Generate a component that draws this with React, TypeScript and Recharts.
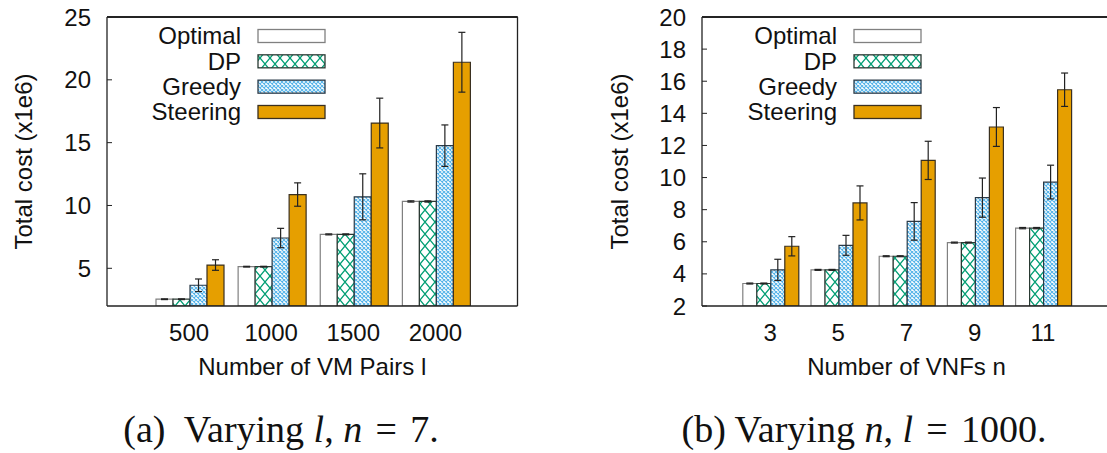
import React from 'react';
import { BarChart, Bar, XAxis, YAxis, ErrorBar, Legend, ReferenceLine, CartesianGrid } from 'recharts';

// (a) varying l, n = 7
const lCats = ['500', '1000', '1500', '2000'];
const lOptimal = [2.54, 5.13, 7.7, 10.32];
const lDP = [2.54, 5.13, 7.7, 10.32];
const lGreedy = [3.65, 7.41, 10.69, 14.76];
const lSteering = [5.26, 10.87, 16.56, 21.4];
const lOptimalErr = [0.03, 0.03, 0.04, 0.05];
const lDPErr = [0.03, 0.03, 0.04, 0.05];
const lGreedyErr = [0.5, 0.77, 1.83, 1.65];
const lSteeringErr = [0.42, 0.93, 1.98, 2.38];
const lTicks = [5, 10, 15, 20, 25];

// (b) varying n, l = 1000
const rCats = ['3', '5', '7', '9', '11'];
const rOptimal = [3.4, 4.25, 5.1, 5.95, 6.85];
const rDP = [3.4, 4.25, 5.1, 5.95, 6.85];
const rGreedy = [4.25, 5.78, 7.27, 8.75, 9.72];
const rSteering = [5.72, 8.42, 11.07, 13.15, 15.47];
const rOptimalErr = [0.03, 0.03, 0.03, 0.03, 0.04];
const rDPErr = [0.03, 0.03, 0.03, 0.03, 0.04];
const rGreedyErr = [0.66, 0.62, 1.17, 1.22, 1.05];
const rSteeringErr = [0.6, 1.06, 1.19, 1.21, 1.04];
const rTicks = [2, 4, 6, 8, 10, 12, 14, 16, 18, 20];

const FONT = '"Liberation Sans", Arial, Helvetica, sans-serif';
const SERIF = '"Liberation Serif", "Times New Roman", serif';
const INK = '#111';
const AXIS = '#222';

const rows = (cats: string[], o: number[], d: number[], g: number[], s: number[],
  oe: number[], de: number[], ge: number[], se: number[]) =>
  cats.map((x, i) => ({
    x, optimal: o[i], dp: d[i], greedy: g[i], steering: s[i],
    optErr: oe[i], dpErr: de[i], greedyErr: ge[i], steerErr: se[i],
  }));

const leftData = rows(lCats, lOptimal, lDP, lGreedy, lSteering, lOptimalErr, lDPErr, lGreedyErr, lSteeringErr);
const rightData = rows(rCats, rOptimal, rDP, rGreedy, rSteering, rOptimalErr, rDPErr, rGreedyErr, rSteeringErr);

const SERIES = [
  { key: 'optimal', err: 'optErr', name: 'Optimal', stroke: '#808080' },
  { key: 'dp', err: 'dpErr', name: 'DP', stroke: '#2a3a33' },
  { key: 'greedy', err: 'greedyErr', name: 'Greedy', stroke: '#2a3a48' },
  { key: 'steering', err: 'steerErr', name: 'Steering', stroke: '#3a3020' },
];

const fillFor = (p: string, key: string) => {
  if (key === 'optimal') return '#ffffff';
  if (key === 'dp') return `url(#${p}-dp)`;
  if (key === 'greedy') return `url(#${p}-greedy)`;
  return '#e69f00';
};

function Patterns({ p }: { p: string }) {
  return (
    <defs>
      <pattern id={`${p}-dp`} patternUnits="userSpaceOnUse" width={10} height={12}>
        <rect width={10} height={12} fill="#fff" />
        <path d="M0 0 L10 12 M10 0 L0 12" stroke="#009e73" strokeWidth={1.3} />
      </pattern>
      <pattern id={`${p}-greedy`} patternUnits="userSpaceOnUse" width={4} height={4}>
        <rect width={4} height={4} fill="#fff" />
        <path d="M0 0 L4 4 M4 0 L0 4" stroke="#56b4e9" strokeWidth={1.1} />
      </pattern>
    </defs>
  );
}

// legend keeps the plotting order (Optimal, DP, Greedy, Steering)
function LegendBox({ p }: { p: string }) {
  return (
    <svg width={200} height={104} style={{ display: 'block' }}>
      <Patterns p={p + 'lg'} />
      {SERIES.map((s, i) => {
        const cy = 14 + i * 25.33;
        return (
          <g key={s.key}>
            <text x={111} y={cy} dy="0.35em" textAnchor="end" fontFamily={FONT} fontSize={24} fill={INK}>
              {s.name}
            </text>
            <rect x={128} y={cy - 6.5} width={67} height={13} fill={fillFor(p + 'lg', s.key)} stroke={s.stroke} strokeWidth={1.3} />
          </g>
        );
      })}
    </svg>
  );
}

type PanelProps = {
  id: string;
  data: any[];
  width: number;
  height: number;
  yWidth: number;
  rightMargin: number;
  domain: [number, number];
  ticks: number[];
  xTitle: string;
  yTitleDx: number;
  xPad: number;
  gap: number;
  legendLeft: number;
};

const TOP_H = 12;

function Panel(props: PanelProps) {
  const { id, data, width, height, yWidth, rightMargin, domain, ticks, xTitle, yTitleDx, xPad, gap, legendLeft } = props;
  const tickStyle = { fontFamily: FONT, fontSize: 24, fill: INK };
  return (
    <BarChart
      width={width}
      height={height}
      data={data}
      margin={{ top: 17 - TOP_H, right: rightMargin - 1, bottom: 0, left: 0 }}
      barCategoryGap={gap}
      barGap={0}
    >
      <Patterns p={id} />
      {/* top edge of the plot frame */}
      <CartesianGrid vertical={false} horizontalValues={[domain[1]]} stroke={AXIS} strokeWidth={1.3} strokeDasharray="0" />
      <XAxis
        dataKey="x"
        height={height - 17 - 289}
        padding={{ left: xPad, right: xPad }}
        tick={tickStyle}
        tickLine={false}
        tickSize={0}
        tickMargin={18}
        axisLine={{ stroke: AXIS, strokeWidth: 1.3 }}
        label={{ value: xTitle, position: 'center', dy: 13, fontFamily: FONT, fontSize: 24, fill: INK }}
      />
      <XAxis
        xAxisId="top"
        orientation="top"
        dataKey="x"
        height={TOP_H}
        padding={{ left: xPad, right: xPad }}
        tick={false}
        tickSize={-5}
        tickLine={{ stroke: AXIS }}
        axisLine={{ stroke: AXIS, strokeWidth: 1.3 }}
      />
      <YAxis
        type="number"
        width={yWidth}
        domain={domain}
        ticks={ticks}
        allowDataOverflow
        interval={0}
        tick={tickStyle}
        tickSize={-5}
        tickMargin={21}
        tickLine={{ stroke: AXIS }}
        axisLine={{ stroke: AXIS, strokeWidth: 1.3 }}
        label={{ value: 'Total cost (x1e6)', angle: -90, position: 'center', dx: yTitleDx, fontFamily: FONT, fontSize: 24, fill: INK }}
      />
      <YAxis
        yAxisId="right"
        orientation="right"
        type="number"
        width={1}
        domain={domain}
        ticks={ticks}
        allowDataOverflow
        interval={0}
        tick={false}
        tickSize={-5}
        tickLine={{ stroke: AXIS }}
        axisLine={{ stroke: AXIS, strokeWidth: 1.3 }}
      />
      <ReferenceLine y={domain[1]} ifOverflow="visible" stroke={AXIS} strokeWidth={1.3} />
      <Legend
        layout="vertical"
        align="center"
        verticalAlign="middle"
        wrapperStyle={{ left: legendLeft, top: 22, width: 'auto', height: 'auto' }}
        content={() => <LegendBox p={id} />}
      />
      {SERIES.map((s) => (
        <Bar
          key={s.key}
          dataKey={s.key}
          name={s.name}
          fill={fillFor(id, s.key)}
          stroke={s.stroke}
          strokeWidth={1.2}
          isAnimationActive={false}
        >
          <ErrorBar dataKey={s.err} width={3.5} stroke="#222" strokeWidth={1.2} isAnimationActive={false} />
        </Bar>
      ))}
    </BarChart>
  );
}

const captionStyle: React.CSSProperties = {
  position: 'absolute',
  top: 410,
  transform: 'translateX(-50%)',
  whiteSpace: 'nowrap',
  fontFamily: SERIF,
  fontSize: 38,
  lineHeight: 1,
  color: INK,
};

const eq: React.CSSProperties = { margin: '0 0.1em' };

export default function App() {
  return (
    <div
      style={{
        position: 'fixed',
        left: 0,
        top: 0,
        width: 1107,
        height: 453,
        overflow: 'hidden',
        background: '#fff',
      }}
    >
      <div style={{ position: 'absolute', left: 0, top: 0 }}>
        <Panel
          id="pa"
          data={leftData}
          width={560}
          height={400}
          yWidth={107}
          rightMargin={42.5}
          domain={[2, 25]}
          ticks={lTicks}
          xTitle="Number of VM Pairs l"
          yTitleDx={-30.5}
          xPad={41}
          gap={8}
          legendLeft={130}
        />
      </div>
      <div style={{ position: 'absolute', left: 560, top: 0 }}>
        <Panel
          id="pb"
          data={rightData}
          width={560}
          height={400}
          yWidth={142}
          rightMargin={9}
          domain={[2, 20]}
          ticks={rTicks}
          xTitle="Number of VNFs n"
          yTitleDx={-12}
          xPad={34}
          gap={6.8}
          legendLeft={166}
        />
      </div>
      <div style={{ ...captionStyle, left: 281 }}>
        (a)&nbsp; Varying <i>l</i>, <i>n</i>
        <span style={eq}> = </span>7.
      </div>
      <div style={{ ...captionStyle, left: 864 }}>
        (b) Varying <i>n</i>, <i>l</i>
        <span style={eq}> = </span>1000.
      </div>
    </div>
  );
}
